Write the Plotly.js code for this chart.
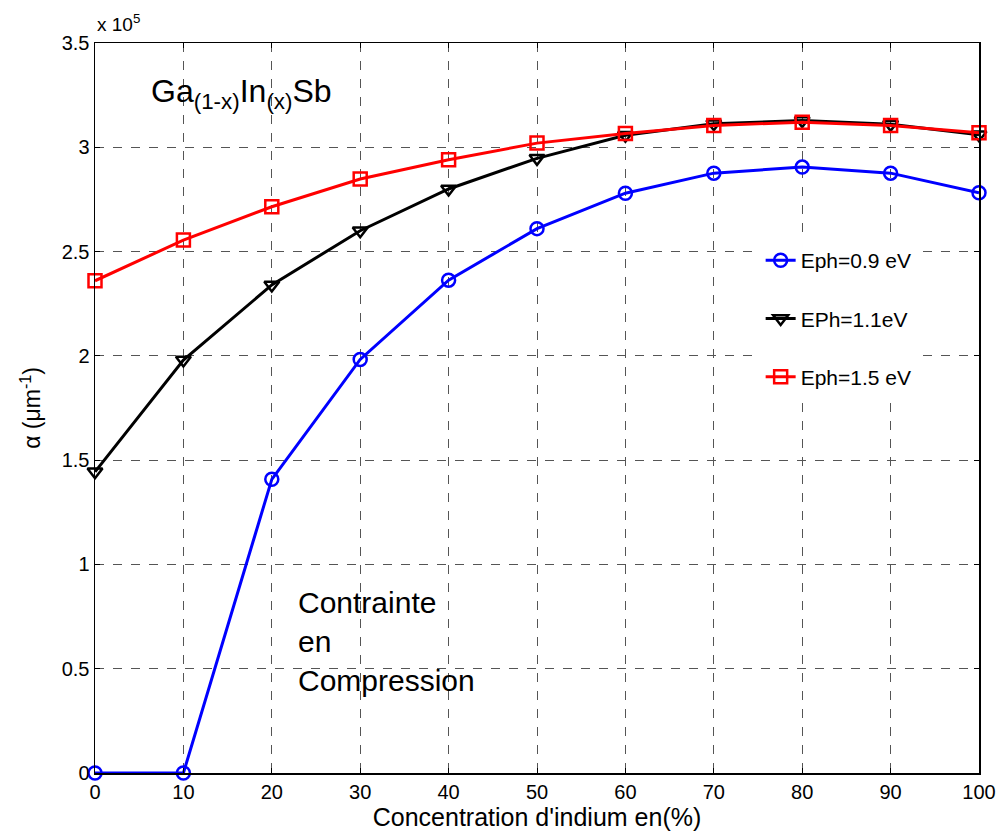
<!DOCTYPE html>
<html>
<head>
<meta charset="utf-8">
<script src="https://cdn.plot.ly/plotly-3.0.1.min.js"></script>
<style>html,body{margin:0;padding:0;background:#fff;}#chart{width:996px;height:839px;}</style>
</head>
<body>
<div id="chart"></div>
<script>
const concentration = [0, 10, 20, 30, 40, 50, 60, 70, 80, 90, 100];
const alphaEph09 = [0, 0, 1.408, 1.983, 2.363, 2.61, 2.78, 2.876, 2.905, 2.876, 2.782];
const alphaEph11 = [1.444, 1.98, 2.34, 2.60, 2.80, 2.947, 3.058, 3.113, 3.128, 3.11, 3.06];
const alphaEph15 = [2.36, 2.555, 2.715, 2.848, 2.94, 3.02, 3.066, 3.105, 3.120, 3.104, 3.07];
const seriesNames = ['Eph=0.9 eV', 'EPh=1.1eV', 'Eph=1.5 eV'];
const xTickVals = [0, 10, 20, 30, 40, 50, 60, 70, 80, 90, 100];
const yTickVals = [0, 0.5, 1, 1.5, 2, 2.5, 3, 3.5];

const font = 'Liberation Sans, Arial, sans-serif';
function mk(y, name, color, symbol, group) {
  return {
    x: concentration, y: y, name: name, type: 'scatter', mode: 'lines+markers',
    line: {color: color, width: 3},
    marker: {symbol: symbol, size: 13, color: color, line: {color: color, width: 2.5}},
    cliponaxis: false, legendgroup: group
  };
}
const data = [
  mk(alphaEph09, seriesNames[0], '#0000ff', 'circle-open', 'a'),
  mk(alphaEph11, seriesNames[1], '#000000', 'triangle-down-open', 'b'),
  mk(alphaEph15, seriesNames[2], '#ff0000', 'square-open', 'c')
];
const axisCommon = {
  showline: true, mirror: 'ticks', linecolor: '#000', linewidth: 1.5,
  ticks: 'inside', ticklen: 5, tickcolor: '#000',
  showgrid: true, gridcolor: '#555', griddash: 'dash', gridwidth: 1,
  zeroline: false, tickfont: {family: font, size: 20, color: '#000'}
};
const layout = {
  width: 996, height: 839,
  margin: {l: 95, r: 17, t: 43, b: 66},
  paper_bgcolor: '#fff', plot_bgcolor: '#fff',
  font: {family: font, color: '#000'},
  xaxis: Object.assign({}, axisCommon, {
    range: [0, 100], tickvals: xTickVals,
    title: {text: "Concentration d'indium en(%)", font: {family: font, size: 25}, standoff: 6}
  }),
  yaxis: Object.assign({}, axisCommon, {
    range: [0, 3.5], tickvals: yTickVals,
    title: {text: 'α (μm<sup>-1</sup>)', font: {family: font, size: 23}, standoff: 14}
  }),
  showlegend: true,
  legend: {
    x: 0.753, y: 0.73, xanchor: 'left', yanchor: 'top',
    bgcolor: 'rgba(255,255,255,1)', borderwidth: 0,
    font: {family: font, size: 21, color: '#000'},
    tracegroupgap: 28
  },
  annotations: [
    {xref: 'paper', yref: 'paper', x: 0, y: 1, xanchor: 'left', yanchor: 'bottom', yshift: 6,
     text: 'x 10<sup>5</sup>', showarrow: false, font: {family: font, size: 19}},
    {xref: 'x', yref: 'y', x: 6.1, y: 3.26, xanchor: 'left', yanchor: 'middle',
     text: 'Ga<sub>(1-x)</sub>In<sub>(x)</sub>Sb', showarrow: false, font: {family: font, size: 32}},
    {xref: 'x', yref: 'y', x: 22.7, y: 0.63, xanchor: 'left', yanchor: 'middle', align: 'left',
     text: 'Contrainte<br>en<br>Compression', showarrow: false, font: {family: font, size: 30}}
  ]
};
Plotly.newPlot('chart', data, layout, {displayModeBar: false, staticPlot: true});
</script>
</body>
</html>
